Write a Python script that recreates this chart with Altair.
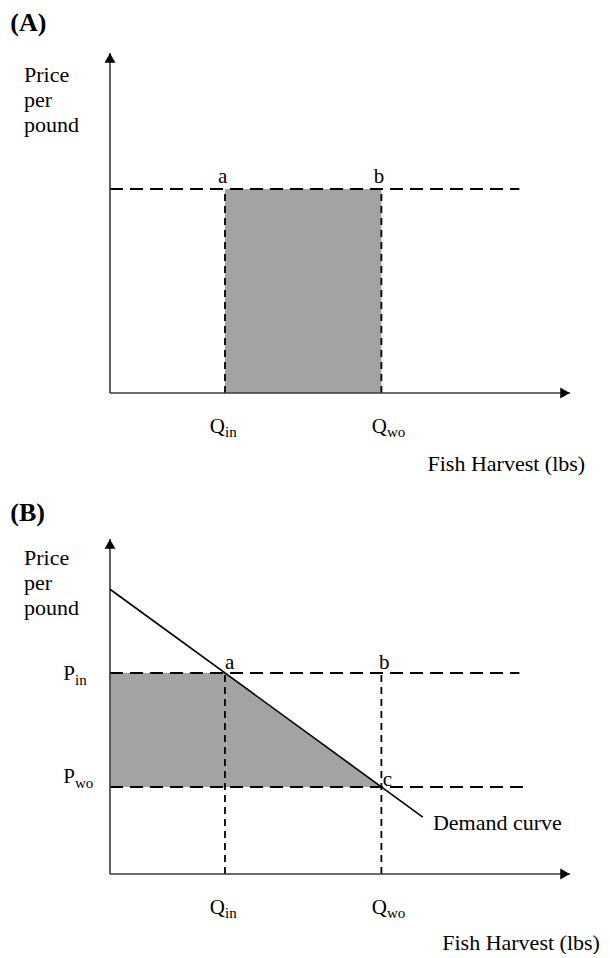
import altair as alt
import pandas as pd

# ---- conceptual quantities (data units) ----
Q_IN = 25          # quantity with the policy
Q_WO = 59          # quantity without the policy
P_IN = 60          # price with the policy
P_WO = 26          # price without the policy
AXIS_END = 100     # length of both axes
DASH_END_IN = 89   # right end of the dashed price line at P_in
DASH_END_WO = 90   # right end of the dashed price line at P_wo
demand_q = [0, 68]
demand_p = [85, 17]
shade_q = [0, Q_IN, Q_WO]
shade_top = [P_IN, P_IN, P_WO]
shade_base = [P_WO, P_WO, P_WO]

X_DOMAIN = [-22.17, 106.96]
Y_DOMAIN_A = [-25.29, 113.24]
Y_DOMAIN_B = [-22.69, 117.91]
W, H = 594, 471
FONT = "Liberation Serif, Times New Roman, serif"
SHADE = "#a3a3a3"
AXIS_COLOR = "#3a3a3a"

xs = alt.Scale(domain=X_DOMAIN, nice=False, zero=False)


def seg(df, ys, **mk):
    return alt.Chart(df).mark_rule(**mk).encode(
        x=alt.X("x:Q", scale=xs, axis=None),
        y=alt.Y("y:Q", scale=ys, axis=None),
        x2="x2:Q",
        y2="y2:Q",
    )


def txt(df, ys, align="left", size=22, weight="normal", dy=0, **kw):
    return alt.Chart(df).mark_text(
        align=align, baseline="middle", font=FONT, fontSize=size,
        fontWeight=weight, dy=dy, color="black", **kw
    ).encode(
        x=alt.X("x:Q", scale=xs, axis=None),
        y=alt.Y("y:Q", scale=ys, axis=None),
        text="t:N",
    )


def axes(ys):
    df = pd.DataFrame({"x": [0, 0], "y": [0, 0], "x2": [AXIS_END, 0], "y2": [0, AXIS_END]})
    lines = seg(df, ys, color=AXIS_COLOR, strokeWidth=1.6)
    up = alt.Chart(pd.DataFrame({"x": [0], "y": [AXIS_END]})).mark_point(
        shape="triangle-up", filled=True, size=120, color="black", opacity=1, yOffset=5
    ).encode(x=alt.X("x:Q", scale=xs, axis=None), y=alt.Y("y:Q", scale=ys, axis=None))
    right = alt.Chart(pd.DataFrame({"x": [AXIS_END], "y": [0]})).mark_point(
        shape="triangle-right", filled=True, size=120, color="black", opacity=1, xOffset=-5
    ).encode(x=alt.X("x:Q", scale=xs, axis=None), y=alt.Y("y:Q", scale=ys, axis=None))
    return [lines, up, right]


def common_text(ys, panel, panel_y, price_y, q_y, fh_x, fh_y):
    return [
        txt(pd.DataFrame({"t": [panel], "x": [X_DOMAIN[0] + 0.5], "y": [panel_y]}), ys,
            size=26, weight="bold"),
        txt(pd.DataFrame({"t": ["Price\nper\npound"], "x": [-18.7], "y": [price_y]}), ys,
            size=22, lineBreak="\n", lineHeight=25),
        txt(pd.DataFrame({"t": ["Q", "Q"], "x": [Q_IN, Q_WO + 1.2], "y": [q_y, q_y]}), ys,
            align="right", size=21),
        txt(pd.DataFrame({"t": ["in", "wo"], "x": [Q_IN, Q_WO + 1.2], "y": [q_y, q_y]}), ys,
            align="left", size=15, dy=5),
        txt(pd.DataFrame({"t": ["Fish Harvest (lbs)"], "x": [fh_x], "y": [fh_y]}), ys,
            align="right", size=22),
    ]


# ---------------- Panel A ----------------
ysA = alt.Scale(domain=Y_DOMAIN_A, nice=False, zero=False)
rectA = alt.Chart(pd.DataFrame({"x": [Q_IN], "x2": [Q_WO], "y": [0], "y2": [P_IN]})).mark_rect(
    color=SHADE, opacity=1
).encode(
    x=alt.X("x:Q", scale=xs, axis=None), x2="x2:Q",
    y=alt.Y("y:Q", scale=ysA, axis=None), y2="y2:Q",
)
vdashA = seg(pd.DataFrame({"x": [Q_IN, Q_WO], "x2": [Q_IN, Q_WO], "y": [0, 0], "y2": [P_IN, P_IN]}),
             ysA, color="black", strokeWidth=1.8, strokeDash=[7, 5])
hdashA = seg(pd.DataFrame({"x": [0], "x2": [DASH_END_IN], "y": [P_IN], "y2": [P_IN]}),
             ysA, color="black", strokeWidth=2, strokeDash=[13, 7])
labA = txt(pd.DataFrame({"t": ["a", "b"], "x": [24.5, 58.5], "y": [63.4, 63.4]}), ysA,
           align="center", size=21)
panelA = alt.layer(
    rectA, vdashA, hdashA, *axes(ysA), labA,
    *common_text(ysA, "(A)", 108.8, 93.5, -9.9, 103.3, -20.9),
).properties(width=W, height=H)

# ---------------- Panel B ----------------
ysB = alt.Scale(domain=Y_DOMAIN_B, nice=False, zero=False)
shadeB = alt.Chart(pd.DataFrame({"x": shade_q, "y": shade_top, "y2": shade_base})).mark_area(
    color=SHADE, opacity=1
).encode(
    x=alt.X("x:Q", scale=xs, axis=None),
    y=alt.Y("y:Q", scale=ysB, axis=None), y2="y2:Q",
)
vdashB = seg(pd.DataFrame({"x": [Q_IN, Q_WO], "x2": [Q_IN, Q_WO], "y": [0, 0], "y2": [P_IN, P_IN]}),
             ysB, color="black", strokeWidth=1.8, strokeDash=[7, 5])
hdashB = seg(pd.DataFrame({"x": [0, 0], "x2": [DASH_END_IN, DASH_END_WO],
                           "y": [P_IN, P_WO], "y2": [P_IN, P_WO]}),
             ysB, color="black", strokeWidth=2, strokeDash=[13, 7])
demand = seg(pd.DataFrame({"x": [demand_q[0]], "y": [demand_p[0]],
                           "x2": [demand_q[1]], "y2": [demand_p[1]]}),
             ysB, color="black", strokeWidth=1.6)
labB = txt(pd.DataFrame({"t": ["a", "b", "c"], "x": [26.0, 59.6, 60.3], "y": [63.0, 63.0, 28.1]}),
           ysB, align="center", size=21)
pB = txt(pd.DataFrame({"t": ["P", "P"], "x": [-7.6, -7.6], "y": [59.7, 29.1]}), ysB,
         align="right", size=21)
pBsub = txt(pd.DataFrame({"t": ["in", "wo"], "x": [-7.6, -7.6], "y": [59.7, 29.1]}), ysB,
            align="left", size=15, dy=6)
demLab = txt(pd.DataFrame({"t": ["Demand curve"], "x": [70.2], "y": [15.2]}), ysB, size=22)
panelB = alt.layer(
    shadeB, vdashB, hdashB, *axes(ysB), demand, labB, pB, pBsub, demLab,
    *common_text(ysB, "(B)", 107.9, 94.3, -10.1, 106.5, -20.6),
).properties(width=W, height=H)

chart = alt.vconcat(panelA, panelB, spacing=0).properties(
    padding={"left": 0, "right": 0, "top": 0, "bottom": 0},
    background="white",
).configure_view(stroke=None)

chart.save("out.html", embed_options={"renderer": "svg", "actions": False})
